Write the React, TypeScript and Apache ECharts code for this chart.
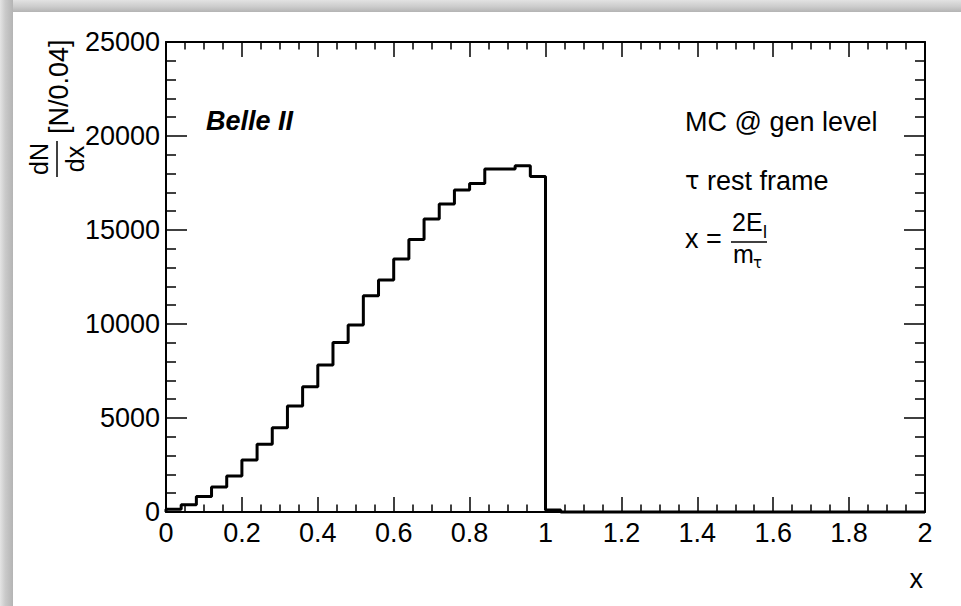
import React, { useEffect, useRef } from "react";
import * as echarts from "echarts";

// Histogram: dN/dx in bins of width 0.04 over x in [0, 2]
const binWidth = 0.04;
const xMin = 0;
const xMax = 2;
const counts = [
  150, 380, 820, 1330, 1920, 2770, 3600, 4480, 5640, 6660,
  7820, 9010, 9950, 11500, 12340, 13460, 14500, 15580, 16380, 17130,
  17470, 18240, 18250, 18420, 17840, 110, 0, 0, 0, 0,
  0, 0, 0, 0, 0, 0, 0, 0, 0, 0,
  0, 0, 0, 0, 0, 0, 0, 0, 0, 0,
];
const yMin = 0;
const yMax = 25000;
const yInterval = 5000;
const xInterval = 0.2;

const FONT = "'Liberation Sans', Arial, Helvetica, sans-serif";
const GREEK = "'DejaVu Sans', 'Liberation Serif', serif";
const FS = 27;

export default function App() {
  const ref = useRef<HTMLDivElement>(null);
  useEffect(() => {
    if (!ref.current) return;
    const chart = echarts.init(ref.current, null, { renderer: "svg" });

    const histData: number[][] = [[xMin, 0]];
    counts.forEach((v, i) => histData.push([+(xMin + i * binWidth).toFixed(2), v]));
    histData.push([xMax, counts[counts.length - 1]]);

    const xTickCommon = {
      type: "value" as const,
      min: xMin,
      max: xMax,
      interval: xInterval,
      axisLine: { show: true, onZero: false, lineStyle: { color: "#000", width: 2 } },
      axisTick: { show: true, inside: true, length: 15, lineStyle: { color: "#000", width: 1.5 } },
      minorTick: { show: true, splitNumber: 4, length: 7.5, lineStyle: { color: "#000", width: 1.5 } },
      splitLine: { show: false },
      minorSplitLine: { show: false },
    };
    const yTickCommon = {
      type: "value" as const,
      min: yMin,
      max: yMax,
      interval: yInterval,
      axisLine: { show: true, onZero: false, lineStyle: { color: "#000", width: 2 } },
      axisTick: { show: true, inside: true, length: 21, lineStyle: { color: "#000", width: 1.5 } },
      minorTick: { show: true, splitNumber: 5, length: 10, lineStyle: { color: "#000", width: 1.5 } },
      splitLine: { show: false },
      minorSplitLine: { show: false },
    };

    const rot = Math.PI / 2;

    chart.setOption({
      animation: false,
      backgroundColor: "#fff",
      grid: { left: 166, top: 42, width: 759, height: 470, containLabel: false },
      xAxis: [
        {
          ...xTickCommon,
          position: "bottom",
          axisLabel: {
            show: true,
            color: "#000",
            fontSize: FS,
            fontFamily: FONT,
            margin: 7,
            formatter: (v: number) => String(+v.toFixed(2)),
          },
        },
        {
          ...xTickCommon,
          position: "top",
          axisLabel: { show: false },
        },
      ],
      yAxis: [
        {
          ...yTickCommon,
          position: "left",
          axisLabel: {
            show: true,
            color: "#000",
            fontSize: FS,
            fontFamily: FONT,
            margin: 6,
            formatter: (v: number) => String(v),
          },
        },
        {
          ...yTickCommon,
          position: "right",
          axisLabel: { show: false },
        },
      ],
      series: [
        {
          type: "line",
          xAxisIndex: 0,
          yAxisIndex: 0,
          step: "end",
          data: histData,
          symbol: "none",
          clip: false,
          lineStyle: { color: "#000", width: 3 },
        },
      ],
      graphic: [
        {
          type: "rect",
          silent: true,
          z: -10,
          shape: { x: 0, y: 0, width: 961, height: 12 },
          style: {
            fill: new echarts.graphic.LinearGradient(0, 0, 0, 1, [
              { offset: 0, color: "#e2e2e2" },
              { offset: 0.55, color: "#cccccc" },
              { offset: 1, color: "#b4b4b4" },
            ]),
          },
        },
        {
          type: "rect",
          silent: true,
          z: -10,
          shape: { x: 0, y: 0, width: 13, height: 606 },
          style: {
            fill: new echarts.graphic.LinearGradient(0, 0, 1, 0, [
              { offset: 0, color: "#e4e4e4" },
              { offset: 0.4, color: "#cacaca" },
              { offset: 1, color: "#b4b4b4" },
            ]),
          },
        },
        // y-axis title: dN/dx [N/0.04]
        {
          type: "text",
          x: 39,
          y: 159,
          rotation: rot,
          style: { text: "dN", fontSize: 25, fontFamily: FONT, fill: "#000", align: "center", verticalAlign: "middle" },
        },
        {
          type: "line",
          shape: { x1: 57, y1: 141, x2: 57, y2: 177 },
          style: { stroke: "#000", lineWidth: 1.5 },
        },
        {
          type: "text",
          x: 75,
          y: 159,
          rotation: rot,
          style: { text: "dx", fontSize: 25, fontFamily: FONT, fill: "#000", align: "center", verticalAlign: "middle" },
        },
        {
          type: "text",
          x: 59,
          y: 134,
          rotation: rot,
          style: { text: "[N/0.04]", fontSize: FS, fontFamily: FONT, fill: "#000", align: "left", verticalAlign: "middle" },
        },
        // Belle II
        {
          type: "text",
          x: 206,
          y: 121,
          style: {
            text: "Belle II",
            fontSize: FS,
            fontWeight: "bold",
            fontStyle: "italic",
            fontFamily: FONT,
            fill: "#000",
            align: "left",
            verticalAlign: "middle",
          },
        },
        // right-side annotations
        {
          type: "text",
          x: 685,
          y: 122,
          style: { text: "MC @ gen level", fontSize: FS, fontFamily: FONT, fill: "#000", align: "left", verticalAlign: "middle" },
        },
        {
          type: "text",
          x: 685,
          y: 181,
          style: {
            text: "{g|τ} rest frame",
            fontSize: FS,
            fontFamily: FONT,
            fill: "#000",
            align: "left",
            verticalAlign: "middle",
            rich: { g: { fontFamily: GREEK, fontSize: 24, fill: "#000" } },
          },
        },
        {
          type: "text",
          x: 685,
          y: 239,
          style: { text: "x =", fontSize: FS, fontFamily: FONT, fill: "#000", align: "left", verticalAlign: "middle" },
        },
        {
          type: "text",
          x: 732,
          y: 222,
          style: { text: "2E", fontSize: 25, fontFamily: FONT, fill: "#000", align: "left", verticalAlign: "middle" },
        },
        {
          type: "text",
          x: 763,
          y: 232,
          style: { text: "l", fontSize: 18, fontFamily: FONT, fill: "#000", align: "left", verticalAlign: "middle" },
        },
        {
          type: "line",
          shape: { x1: 731, y1: 242, x2: 767, y2: 242 },
          style: { stroke: "#000", lineWidth: 1.5 },
        },
        {
          type: "text",
          x: 733,
          y: 254,
          style: { text: "m", fontSize: 25, fontFamily: FONT, fill: "#000", align: "left", verticalAlign: "middle" },
        },
        {
          type: "text",
          x: 753,
          y: 263,
          style: { text: "τ", fontSize: 15, fontFamily: GREEK, fill: "#000", align: "left", verticalAlign: "middle" },
        },
        // x-axis title
        {
          type: "text",
          x: 923,
          y: 579,
          style: { text: "x", fontSize: FS, fontFamily: FONT, fill: "#000", align: "right", verticalAlign: "middle" },
        },
      ],
    });

    return () => chart.dispose();
  }, []);

  return (
    <div
      ref={ref}
      style={{ position: "absolute", left: 0, top: 0, width: 961, height: 606 }}
    />
  );
}
